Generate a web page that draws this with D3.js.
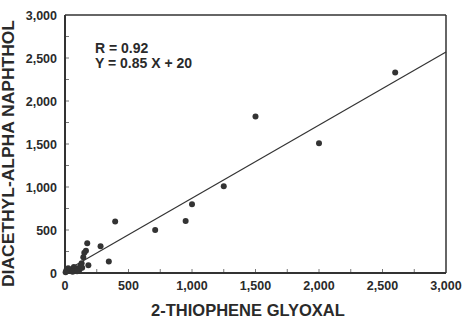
<!DOCTYPE html>
<html>
  <head>
    <style>
      html,
      body { margin: 0; background: #fff; }
      svg { display: block; }
      text { font-family: "Liberation Sans", Arial, sans-serif; fill: #2a2a2a; }
    </style>
    <script src="https://d3js.org/d3.v7.js"></script>
  </head>
  <body>
    <svg class="chart"></svg>

    <script>
      const width = 463;
      const height = 322;

      // 2-thiophene glyoxal (x) vs diacethyl-alpha naphthol (y)
      const thiophene = [2600, 1500, 2000, 1250, 1000, 950, 710, 395, 280, 345,
        175, 165, 152, 144, 131, 184, 125, 135, 115, 100, 85, 70, 55, 40, 25, 10, 5, 60, 95];
      const naphthol = [2330, 1820, 1510, 1010, 800, 605, 500, 600, 310, 135,
        345, 260, 236, 182, 113, 89, 90, 60, 40, 55, 35, 70, 45, 25, 55, 30, 10, 15, 20];

      const fitSlope = 0.85;
      const fitIntercept = 20;
      const fitText = ['R = 0.92', 'Y = 0.85 X + 20'];

      const majorTicks = [0, 500, 1000, 1500, 2000, 2500, 3000];
      const minorTicks = d3.range(250, 3000, 250);

      const margin = { top: 15, right: 17, bottom: 49, left: 65 };

      const x = d3.scaleLinear()
        .domain([0, 3000])
        .range([margin.left, width - margin.right]);

      const y = d3.scaleLinear()
        .domain([0, 3000])
        .range([height - margin.bottom, margin.top]);

      const svg = d3.select('svg')
        .attr('width', width)
        .attr('height', height);

      const fmt = d3.format(',');

      // inward ticks
      svg.append('g')
        .selectAll('line')
        .data(minorTicks)
        .join('line')
        .attr('x1', (d) => x(d))
        .attr('x2', (d) => x(d))
        .attr('y1', y(0))
        .attr('y2', y(0) - 4)
        .attr('stroke', '#555')
        .attr('stroke-width', 0.8);

      svg.append('g')
        .selectAll('line')
        .data(minorTicks)
        .join('line')
        .attr('x1', x(0))
        .attr('x2', x(0) + 4)
        .attr('y1', (d) => y(d))
        .attr('y2', (d) => y(d))
        .attr('stroke', '#555')
        .attr('stroke-width', 0.8);

      // frame
      svg.append('line')
        .attr('x1', x(0)).attr('x2', x(3000))
        .attr('y1', y(3000)).attr('y2', y(3000))
        .attr('stroke', '#333').attr('stroke-width', 1.5);
      svg.append('line')
        .attr('x1', x(3000)).attr('x2', x(3000))
        .attr('y1', y(3000)).attr('y2', y(0))
        .attr('stroke', '#333').attr('stroke-width', 1.5);
      svg.append('line')
        .attr('x1', x(0)).attr('x2', x(0))
        .attr('y1', y(3000)).attr('y2', y(0) + 1)
        .attr('stroke', '#333').attr('stroke-width', 2);
      svg.append('line')
        .attr('x1', x(0) - 1).attr('x2', x(3000))
        .attr('y1', y(0)).attr('y2', y(0))
        .attr('stroke', '#333').attr('stroke-width', 2);

      // tick labels
      svg.append('g')
        .selectAll('text')
        .data(majorTicks)
        .join('text')
        .attr('x', (d) => x(d))
        .attr('y', 290)
        .attr('text-anchor', 'middle')
        .style('font-size', '12.5px')
        .style('font-weight', 'bold')
        .text(fmt);

      svg.append('g')
        .selectAll('text')
        .data(majorTicks)
        .join('text')
        .attr('x', 57)
        .attr('y', (d) => y(d) + 4.5)
        .attr('text-anchor', 'end')
        .style('font-size', '12.5px')
        .style('font-weight', 'bold')
        .text(fmt);

      // regression line
      svg.append('line')
        .attr('x1', x(0))
        .attr('y1', y(fitIntercept))
        .attr('x2', x(3000))
        .attr('y2', y(fitSlope * 3000 + fitIntercept))
        .attr('stroke', '#333')
        .attr('stroke-width', 1.2);

      // points
      svg.append('g')
        .selectAll('circle')
        .data(d3.zip(thiophene, naphthol))
        .join('circle')
        .attr('cx', (d) => x(d[0]))
        .attr('cy', (d) => y(d[1]))
        .attr('r', 3)
        .attr('fill', '#333');

      // fit annotation
      svg.append('g')
        .selectAll('text')
        .data(fitText)
        .join('text')
        .attr('x', 95)
        .attr('y', (d, i) => 53 + i * 15)
        .style('font-size', '14px')
        .style('font-weight', 'bold')
        .text((d) => d);

      // axis titles
      svg.append('text')
        .attr('x', 248)
        .attr('y', 316)
        .attr('text-anchor', 'middle')
        .style('font-size', '16.5px')
        .style('font-weight', 'bold')
        .text('2-THIOPHENE GLYOXAL');

      svg.append('text')
        .attr('transform', 'translate(13.5,153.5) rotate(-90)')
        .attr('text-anchor', 'middle')
        .attr('textLength', 267)
        .attr('lengthAdjust', 'spacingAndGlyphs')
        .style('font-size', '16px')
        .style('font-weight', 'bold')
        .text('DIACETHYL-ALPHA NAPHTHOL');
    </script>
  </body>
</html>
